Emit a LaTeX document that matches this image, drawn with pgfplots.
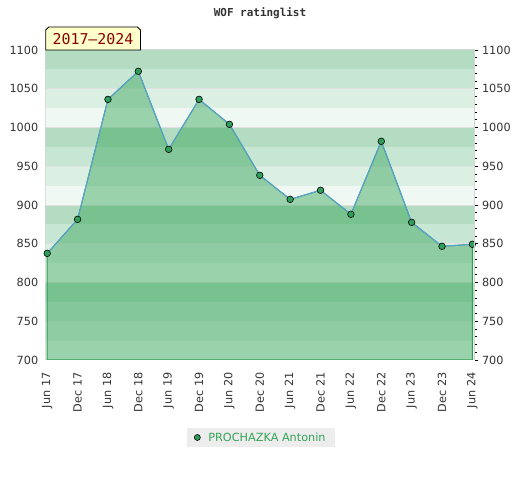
\documentclass[border=0pt]{standalone}
\usepackage{fontspec}
\setmainfont{DejaVu Sans}
\newfontfamily\monof{DejaVu Sans Mono}
\usepackage{pgfplots}
\usepackage{pgfplotstable}
\pgfplotsset{compat=1.18}
\definecolor{bandA}{HTML}{B3DCC2}
\definecolor{bandB}{HTML}{C8E6D4}
\definecolor{bandC}{HTML}{DCEFE3}
\definecolor{bandD}{HTML}{EFF8F2}
\definecolor{fillgreen}{RGB}{44,160,80}
\definecolor{lineblue}{HTML}{5A9FD8}
\definecolor{markgreen}{HTML}{2E9E5B}
\definecolor{axgray}{HTML}{D4D4D4}
\definecolor{labgray}{HTML}{333333}
\definecolor{legtext}{HTML}{33A457}
\definecolor{boxyellow}{HTML}{FFFFCC}
\definecolor{darkred}{HTML}{8B0000}
\pgfplotstableread{
x y
0 837.6
1 881.5
2 1036.3
3 1072.5
4 971.8
5 1036.3
6 1004.1
7 938.3
8 907.3
9 919.0
10 888.0
11 982.2
12 877.6
13 846.7
14 849.3
}\datatable
\begin{document}
\begin{tikzpicture}[x=1bp,y=1bp]
\path[use as bounding box, fill=white] (0,0) rectangle (520,480);
\begin{axis}[
  at={(45.7bp,120bp)}, anchor=south west, scale only axis,
  width=428.8bp, height=310bp,
  xmin=-0.05, xmax=14.07, ymin=700, ymax=1100,
  xtick={0,...,14},
  xticklabels={Jun 17,Dec 17,Jun 18,Dec 18,Jun 19,Dec 19,Jun 20,Dec 20,Jun 21,Dec 21,Jun 22,Dec 22,Jun 23,Dec 23,Jun 24},
  ytick={700,750,...,1100},
  major tick length=0pt,
  axis line style={draw=axgray, line width=1bp},
  /pgf/number format/assume math mode=true,
  /pgf/number format/set thousands separator={},
  tick label style={font=\fontsize{11.3}{13}\selectfont, text=labgray},
  xticklabel style={rotate=90, anchor=east, xshift=-9bp},
  yticklabel style={xshift=-4bp},
  legend style={at={(0.502,-0.25)}, anchor=center, fill=black!7, draw=none,
     font=\fontsize{11.3}{13}\selectfont, text=legtext, inner xsep=7bp, inner ysep=2.5bp},
  legend cell align=left,
]
\pgfplotsinvokeforeach{700,800,900,1000}{
  \fill[bandD] (axis cs:-1,#1) rectangle (axis cs:15,#1+25);
  \fill[bandC] (axis cs:-1,#1+25) rectangle (axis cs:15,#1+50);
  \fill[bandB] (axis cs:-1,#1+50) rectangle (axis cs:15,#1+75);
  \fill[bandA] (axis cs:-1,#1+75) rectangle (axis cs:15,#1+100);
}
\pgfplotsinvokeforeach{750,800,...,1050}{
  \draw[black!12, line width=0.6bp] (axis cs:-1,#1) -- (axis cs:15,#1);
}
\addplot[draw=fillgreen, line width=1bp, fill=fillgreen, fill opacity=0.43, forget plot] table {\datatable} \closedcycle;
\addplot[color=lineblue, line width=1bp, mark=*, mark size=3.3bp,
  mark options={fill=markgreen, draw=black, line width=0.6bp}, forget plot] table {\datatable};
\addlegendimage{only marks, mark=*, mark size=3bp, mark options={fill=markgreen, draw=black, line width=0.6bp}}
\addlegendentry{\hspace{6bp}PROCHAZKA Antonin}
\end{axis}
\begin{axis}[
  at={(45.7bp,120bp)}, anchor=south west, scale only axis,
  width=428.8bp, height=310bp,
  xmin=-0.05, xmax=14.07, ymin=700, ymax=1100,
  axis x line=none, axis y line*=right,
  y axis line style={draw=axgray, line width=1bp},
  ytick={700,750,...,1100}, minor y tick num=4,
  tick align=outside,
  major tick length=3bp, minor tick length=2.5bp,
  every tick/.style={black, line width=0.7bp},
  /pgf/number format/assume math mode=true,
  /pgf/number format/set thousands separator={},
  tick label style={font=\fontsize{11.3}{13}\selectfont, text=labgray},
  yticklabel style={xshift=1bp},
]
\addplot[draw=none, forget plot] coordinates {(0,800)};
\end{axis}
\node[font=\monof\bfseries\fontsize{11}{13}\selectfont, text=labgray] at (260,467) {WOF ratinglist};
\draw[fill=boxyellow, draw=black, line width=0.8bp] (45.7,430) -- (45.7,450) -- (48.7,453) -- (137.5,453) -- (140.5,450) -- (140.5,430) -- cycle;
\node[font=\monof\fontsize{15}{17}\selectfont, text=darkred] at (93,440.5) {2017–2024};
\end{tikzpicture}
\end{document}
